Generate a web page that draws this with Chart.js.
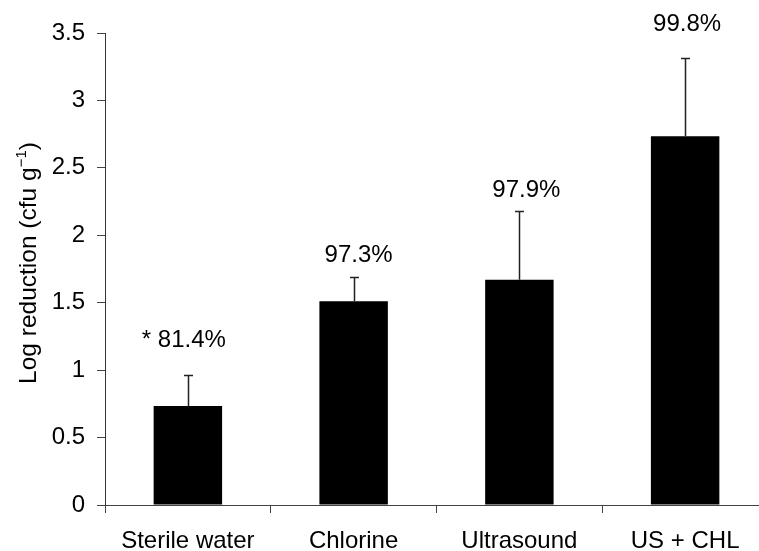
<!DOCTYPE html>
<html>
<head>
<meta charset="utf-8">
<script src="https://cdn.jsdelivr.net/npm/chart.js@4/dist/chart.umd.min.js"></script>
<style>
  html, body { margin: 0; padding: 0; background: #fff; overflow: hidden; }
  canvas { display: block; }
</style>
</head>
<body>
<canvas id="chart" width="770" height="551"></canvas>
<script>
// Treatments and mean log reductions with upper standard deviation
const categories = ['Sterile water', 'Chlorine', 'Ultrasound', 'US + CHL'];
const logReduction = [0.735, 1.51, 1.67, 2.735];
const errorUpper = [0.23, 0.18, 0.51, 0.58];
const percentLabels = ['* 81.4%', '97.3%', '97.9%', '99.8%'];
const yTicks = [0, 0.5, 1, 1.5, 2, 2.5, 3, 3.5];

const FONT = "'Liberation Sans', Arial, Helvetica, sans-serif";
const FONT_SIZE = 24;

// One-sided error bars drawn from each bar top
const errorBars = {
  id: 'errorBars',
  afterDatasetsDraw(chart, args, opts) {
    const { ctx, scales: { y } } = chart;
    const meta = chart.getDatasetMeta(0);
    ctx.save();
    ctx.strokeStyle = opts.color;
    ctx.lineWidth = opts.width;
    meta.data.forEach((bar, i) => {
      const x = Math.round(bar.x) + 0.5;
      const top = Math.round(y.getPixelForValue(logReduction[i] + errorUpper[i])) + 0.5;
      ctx.beginPath();
      ctx.moveTo(x, bar.y);
      ctx.lineTo(x, top);
      ctx.moveTo(x - opts.cap / 2, top);
      ctx.lineTo(x + opts.cap / 2, top);
      ctx.stroke();
    });
    ctx.restore();
  }
};

// Percentage reduction written above each error bar
const percentText = {
  id: 'percentText',
  afterDatasetsDraw(chart, args, opts) {
    const { ctx, scales: { y } } = chart;
    const meta = chart.getDatasetMeta(0);
    ctx.save();
    ctx.font = `${FONT_SIZE}px ${FONT}`;
    ctx.fillStyle = '#000';
    ctx.textAlign = 'center';
    ctx.textBaseline = 'alphabetic';
    meta.data.forEach((bar, i) => {
      const top = y.getPixelForValue(logReduction[i] + errorUpper[i]);
      ctx.fillText(percentLabels[i], bar.x + opts.shift[i], top - opts.lift[i]);
    });
    ctx.restore();
  }
};

// Rotated y-axis title with a superscript exponent
const yTitle = {
  id: 'yTitle',
  afterDraw(chart, args, opts) {
    const { ctx } = chart;
    const main = 'Log reduction (cfu g';
    const sup = '\u22121';
    const tail = ')';
    const mainFont = `${opts.size}px ${FONT}`;
    const supFont = `${Math.round(opts.size * 0.62)}px ${FONT}`;
    ctx.save();
    ctx.font = mainFont;
    const wMain = ctx.measureText(main).width;
    const wTail = ctx.measureText(tail).width;
    ctx.font = supFont;
    const wSup = ctx.measureText(sup).width;
    const total = wMain + wSup + wTail;
    ctx.translate(opts.x, opts.y);
    ctx.rotate(-Math.PI / 2);
    ctx.fillStyle = '#000';
    ctx.textBaseline = 'alphabetic';
    ctx.textAlign = 'left';
    let cx = -total / 2;
    ctx.font = mainFont;
    ctx.fillText(main, cx, 0);
    cx += wMain;
    ctx.font = supFont;
    ctx.fillText(sup, cx, -opts.size * 0.42);
    cx += wSup;
    ctx.font = mainFont;
    ctx.fillText(tail, cx, 0);
    ctx.restore();
  }
};

new Chart(document.getElementById('chart'), {
  type: 'bar',
  data: {
    labels: categories,
    datasets: [{
      data: logReduction,
      backgroundColor: '#000',
      borderWidth: 0,
      categoryPercentage: 1,
      barPercentage: 0.413
    }]
  },
  options: {
    responsive: false,
    animation: false,
    devicePixelRatio: 1,
    layout: { padding: { left: 0, top: 33, right: 2, bottom: 0 } },
    plugins: {
      legend: { display: false },
      tooltip: { enabled: false },
      errorBars: { color: '#222', width: 1.5, cap: 9 },
      percentText: { lift: [28, 15, 14, 27], shift: [-4, 5, 7, 2] },
      yTitle: { x: 36, y: 263, size: 24.5 }
    },
    scales: {
      x: {
        offset: true,
        grid: {
          offset: true,
          drawOnChartArea: false,
          drawTicks: true,
          tickLength: 8,
          color: '#444',
          lineWidth: 1
        },
        border: { display: true, color: '#444', width: 1 },
        ticks: {
          color: '#000',
          font: { family: FONT, size: FONT_SIZE },
          padding: 14,
          maxRotation: 0
        },
        afterFit(scale) { scale.height = 46; }
      },
      y: {
        min: 0,
        max: 3.5,
        afterBuildTicks(scale) { scale.ticks = yTicks.map(v => ({ value: v })); },
        grid: {
          drawOnChartArea: false,
          drawTicks: true,
          tickLength: 8,
          color: '#444',
          lineWidth: 1
        },
        border: { display: true, color: '#333', width: 1 },
        ticks: {
          color: '#000',
          font: { family: FONT, size: FONT_SIZE },
          padding: 12,
          callback: v => String(v)
        },
        afterFit(scale) { scale.width = 105; }
      }
    }
  },
  plugins: [errorBars, percentText, yTitle]
});
</script>
</body>
</html>
